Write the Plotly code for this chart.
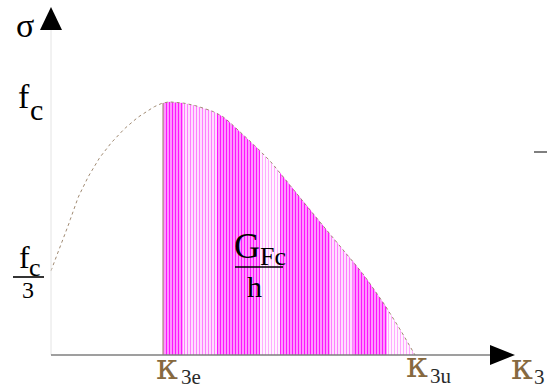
import numpy as np
import plotly.graph_objects as go

# Stress-strain softening curve (sigma in units of f_c, kappa3 in units of kappa3e)
kappa_curve = [0.0, 0.125, 0.241, 0.393, 0.545, 0.723, 0.902, 1.0, 1.08, 1.268,
               1.509, 1.688, 1.955, 2.223, 2.491, 2.759, 3.027, 3.25]
sigma_curve = [0.333, 0.474, 0.621, 0.751, 0.842, 0.921, 0.976, 0.996, 1.0, 0.988,
               0.949, 0.881, 0.767, 0.621, 0.478, 0.336, 0.166, 0.0]

kappa_3e = 1.0
kappa_3u = 3.25
f_c = 1.0

# Hatched bands under the softening branch
band_edges = [1.0, 1.179, 1.482, 1.866, 2.045, 2.491, 2.696, 3.0, 3.25]
band_styles = ["dense", "light", "dense", "pale", "dense", "light", "dense", "pale"]

styles = {
    "dense": dict(fg="#ff14ff", bg="#ffd2ff", solidity=0.55),
    "light": dict(fg="#ff7dff", bg="#ffe8ff", solidity=0.4),
    "pale": dict(fg="#ffaaff", bg="#fff3ff", solidity=0.35),
}

# pixel scale of the drawing (px per unit)
PX_X = 112.0
PX_Y = 253.0
W, H = 547, 392
X0, Y0 = 51, 355  # origin pixel


def catmull_rom(x, y, n=12):
    x = np.asarray(x, float)
    y = np.asarray(y, float)
    px = np.concatenate([[2 * x[0] - x[1]], x, [2 * x[-1] - x[-2]]])
    py = np.concatenate([[2 * y[0] - y[1]], y, [2 * y[-1] - y[-2]]])
    xs, ys = [], []
    for i in range(1, len(px) - 2):
        t = np.linspace(0, 1, n, endpoint=False)
        for arr, out in ((px, xs), (py, ys)):
            p0, p1, p2, p3 = arr[i - 1], arr[i], arr[i + 1], arr[i + 2]
            out.append(0.5 * ((2 * p1) + (-p0 + p2) * t
                              + (2 * p0 - 5 * p1 + 4 * p2 - p3) * t ** 2
                              + (-p0 + 3 * p1 - 3 * p2 + p3) * t ** 3))
    xs.append([x[-1]])
    ys.append([y[-1]])
    return np.concatenate(xs), np.concatenate(ys)


cx, cy = catmull_rom(kappa_curve, sigma_curve)

fig = go.Figure()

# hatched area between kappa_3e and kappa_3u
for (a, b), st in zip(zip(band_edges[:-1], band_edges[1:]), band_styles):
    s = styles[st]
    mask = (cx > a) & (cx < b)
    bx = np.concatenate([[a], cx[mask], [b]])
    by = np.concatenate([[np.interp(a, cx, cy)], cy[mask], [np.interp(b, cx, cy)]])
    fig.add_trace(go.Scatter(
        x=bx, y=by, mode="lines", line=dict(width=0), fill="tozeroy",
        fillcolor=s["bg"],
        fillpattern=dict(shape="|", fgcolor=s["fg"], bgcolor=s["bg"],
                         size=3, solidity=s["solidity"], fillmode="replace"),
        hoverinfo="skip", showlegend=False))

# left edge of hatched area at kappa_3e
fig.add_trace(go.Scatter(
    x=[kappa_3e, kappa_3e], y=[0, float(np.interp(kappa_3e, cx, cy))],
    mode="lines", line=dict(color="#bba994", width=1.5),
    hoverinfo="skip", showlegend=False))

# stress-strain curve
fig.add_trace(go.Scatter(
    x=cx, y=cy, mode="lines", line=dict(color="#a08a72", width=1, dash="dot"),
    hoverinfo="skip", showlegend=False))

dx = 1 / PX_X
dy = 1 / PX_Y

shapes = [
    # vertical axis
    dict(type="line", x0=0, x1=0, y0=0, y1=325 * dy, line=dict(color="#e4e4e4", width=1)),
    # horizontal axis
    dict(type="line", x0=0, x1=440 * dx, y0=0, y1=0, line=dict(color="#7f7f7f", width=1.6)),
    # arrow heads
    dict(type="path",
         path=f"M {-11*dx} {325*dy} L {11*dx} {325*dy} L 0 {348*dy} Z",
         fillcolor="black", line=dict(width=0)),
    dict(type="path",
         path=f"M {439*dx} {10*dy} L {439*dx} {-10*dy} L {464*dx} 0 Z",
         fillcolor="black", line=dict(width=0)),
    # small dash at right edge
    dict(type="line", x0=483 * dx, x1=496 * dx, y0=203 * dy, y1=203 * dy,
         line=dict(color="#555555", width=1.5)),
]

SERIF = "Liberation Serif"
KFONT = "DejaVu Serif"
BROWN = "#87693f"


def label(text, x, y, size, xs=0, ys=0, color="black", family=SERIF):
    return dict(text=text, x=x, y=y, xref="x", yref="y", xshift=xs, yshift=ys,
                showarrow=False, xanchor="center", yanchor="middle",
                font=dict(family=family, size=size, color=color))


annotations = [
    # sigma axis title
    label("σ", 0, 330 * dy, 34, xs=-26, ys=0),
    # f_c tick
    label("f", 0, f_c, 34, xs=-27, ys=6),
    label("c", 0, f_c, 30, xs=-15, ys=-7),
    # f_c / 3 tick
    label("f", 0, f_c / 3, 32, xs=-27, ys=14),
    label("c", 0, f_c / 3, 26, xs=-16, ys=3),
    label("3", 0, f_c / 3, 24, xs=-23, ys=-19),
    # kappa ticks
    label("κ", kappa_3e, 0, 35, xs=4, ys=-12, color=BROWN, family=KFONT),
    label("3e", kappa_3e, 0, 21, xs=28, ys=-22, color="#2a2a2a"),
    label("κ", kappa_3u, 0, 35, xs=2, ys=-10, color=BROWN, family=KFONT),
    label("3u", kappa_3u, 0, 21, xs=26, ys=-21, color="#2a2a2a"),
    label("κ", 466 * dx, 0, 35, xs=5, ys=-12, color=BROWN, family=KFONT),
    label("3", 466 * dx, 0, 21, xs=22, ys=-22, color="#2a2a2a"),
    # fracture energy label
    label("G", 1.75, 0.43, 36, xs=0, ys=0),
    label("Fc", 1.75, 0.43, 26, xs=26, ys=-10),
    label("h", 1.75, 0.43, 30, xs=7, ys=-40),
]

# fraction bars
shapes += [
    dict(type="line", x0=-38 * dx, x1=-7 * dx, y0=78 * dy, y1=78 * dy,
         line=dict(color="black", width=1.6)),
    dict(type="line", x0=184 * dx, x1=232 * dx, y0=88 * dy, y1=88 * dy,
         line=dict(color="black", width=1.6)),
]

fig.update_layout(
    width=W, height=H,
    margin=dict(l=0, r=0, t=0, b=0),
    paper_bgcolor="white", plot_bgcolor="white",
    xaxis=dict(range=[-X0 * dx, (W - X0) * dx], visible=False, fixedrange=True),
    yaxis=dict(range=[-(H - Y0) * dy, Y0 * dy], visible=False, fixedrange=True),
    shapes=shapes, annotations=annotations, showlegend=False,
)

fig.write_html("out.html")
